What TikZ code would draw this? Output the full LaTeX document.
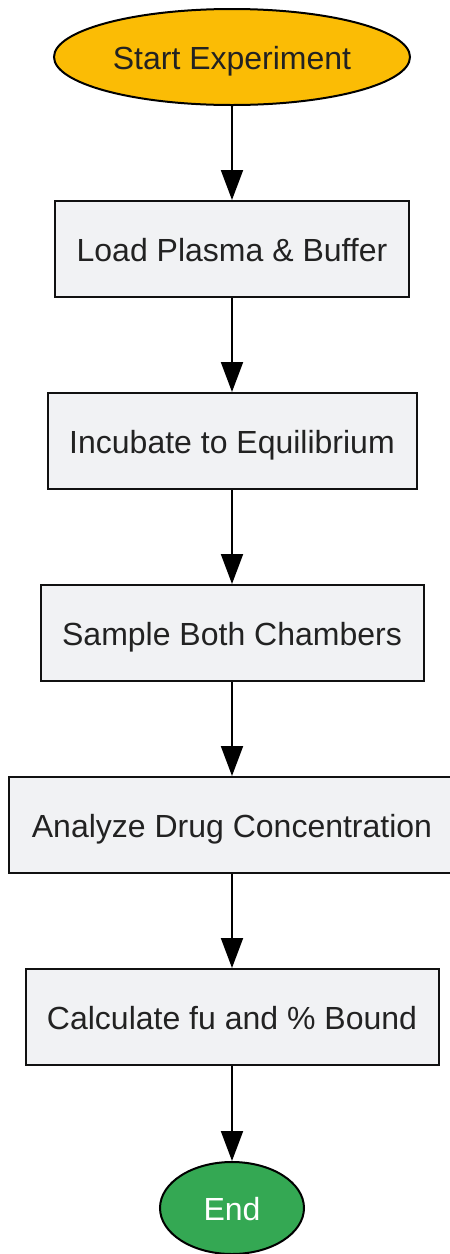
\documentclass[tikz,border=0pt]{standalone}
\usepackage{fontspec}
\setmainfont{Liberation Sans}
\usetikzlibrary{shapes.geometric,arrows.meta}
\definecolor{startc}{HTML}{FBBC05}
\definecolor{endc}{HTML}{34A853}
\definecolor{boxc}{HTML}{F1F2F4}
\definecolor{txtc}{HTML}{222222}
\definecolor{linec}{HTML}{111111}
\begin{document}
\begin{tikzpicture}[x=1pt,y=-1pt,
  every node/.style={font=\fontsize{32}{38}\selectfont, text=txtc, inner sep=0pt, text height=27pt, text depth=2pt},
  procbox/.style={draw=linec, line width=2pt, fill=boxc, rectangle, minimum height=96pt},
  term/.style={draw=black, line width=2pt, ellipse},
  flow/.style={draw=black, line width=2pt, -{Triangle[length=30pt,width=22pt]}}]
\useasboundingbox (0,0) rectangle (450,1254);
\clip (0,0) rectangle (450,1254);
\node[term, fill=startc, minimum width=356pt, minimum height=96pt] (start) at (232,57) {Start Experiment};
\node[procbox, minimum width=354pt] (load) at (232,249) {Load Plasma \& Buffer};
\node[procbox, minimum width=369pt] (inc) at (232,441) {Incubate to Equilibrium};
\node[procbox, minimum width=383pt] (samp) at (232,633) {Sample Both Chambers};
\node[procbox, minimum width=446pt] (anal) at (232,825) {Analyze Drug Concentration};
\node[procbox, minimum width=413pt] (calc) at (232,1017) {Calculate fu and \% Bound};
\node[term, fill=endc, minimum width=144pt, minimum height=92pt, text=white] (end) at (232,1208) {End};
\draw[flow] (start) -- (load);
\draw[flow] (load) -- (inc);
\draw[flow] (inc) -- (samp);
\draw[flow] (samp) -- (anal);
\draw[flow] (anal) -- (calc);
\draw[flow] (calc) -- (end);
\end{tikzpicture}
\end{document}
